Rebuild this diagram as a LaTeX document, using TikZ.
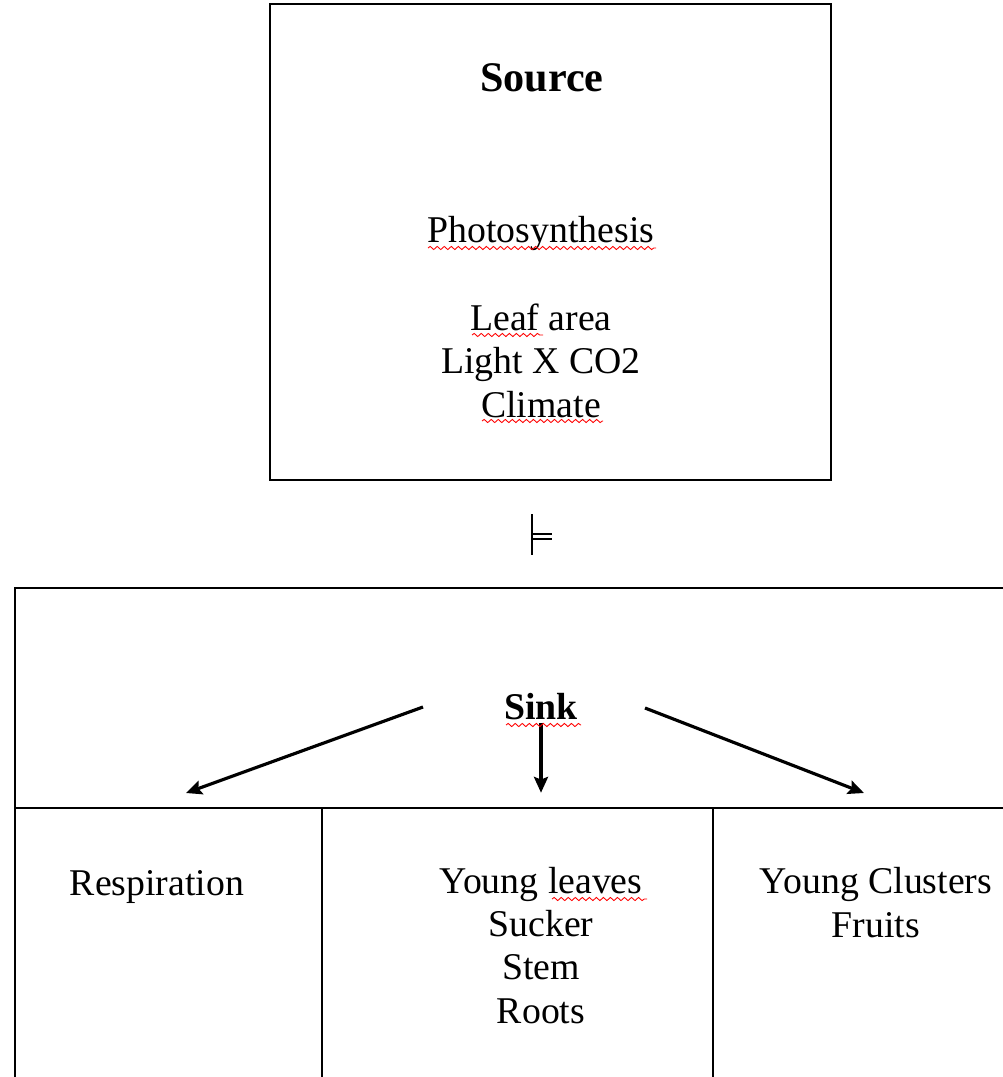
\documentclass[tikz,border=0pt]{standalone}
\usepackage{fontspec}
\setmainfont{Liberation Serif}
\usetikzlibrary{positioning,calc,arrows.meta,decorations.pathmorphing}

\begin{document}
\begin{tikzpicture}[x=0.02cm,y=-0.02cm]
\useasboundingbox (0,0) rectangle (1002,1077);

% boxes
\begin{scope}[line width=0.9pt]
    \draw (270,4) rectangle (831,480);
    \draw (15,1100) -- (15,588) -- (1030,588);
    \draw (15,808) -- (1030,808);
    \draw (322,808) -- (322,1100);
    \draw (713,808) -- (713,1100);
    % the small sign between the boxes
    \draw[line width=0.8pt] (532,514) -- (532,555);
    \draw[line width=0.8pt] (532,534) -- (552,534);
    \draw[line width=0.8pt] (532,539) -- (552,539);
\end{scope}

% multi-line nodes sit on the baseline of their last line
\begin{scope}[every node/.style={font=\fontsize{21.5}{24.5}\selectfont,align=center,inner sep=0pt,anchor=base}]
    \node[font=\fontsize{24}{27}\selectfont\bfseries] (source) at (542,92) {Source};
    \node (photo) at (541,243) {Photosynthesis};
    \node (factors) at (541,417) {Leaf area\\Light X CO2\\Climate};
    \node[font=\fontsize{21.5}{24.5}\selectfont\bfseries] (sink) at (541,719) {Sink};
    \node (resp) at (157,895) {Respiration};
    \node (growth) at (541,1023) {Young leaves\\Sucker\\Stem\\Roots};
    \node (fruits) at (876,937) {Young Clusters\\Fruits};
\end{scope}

% free ends of the arrows
\coordinate (l0) at (423,707);
\coordinate (l1) at (186,793);
\coordinate (m0) at ($(sink.south)+(0,3)$);
\coordinate (m1) at ($(sink.south)+(0,73)$);
\coordinate (r0) at (645,708);
\coordinate (r1) at (864,793);

\begin{scope}[>={Stealth[black,length=9pt,width=8pt,inset=1.5pt]},
              every edge/.style={draw=black,line width=1.8pt}]
    \path [->] (l0) edge (l1);
    \path [->] (m0) edge (m1);
    \path [->] (r0) edge (r1);
\end{scope}

% spell check marks
\begin{scope}[red,line width=0.5pt,decorate,
              decoration={snake,amplitude=0.9pt,segment length=4pt}]
    \draw[decorate] (428,248) -- (656,248);
    \draw[decorate] (472,335) -- (543,335);
    \draw[decorate] (482,421) -- (603,421);
    \draw[decorate] (506,725) -- (581,725);
    \draw[decorate] (552,899) -- (647,899);
\end{scope}
\end{tikzpicture}
\end{document}
